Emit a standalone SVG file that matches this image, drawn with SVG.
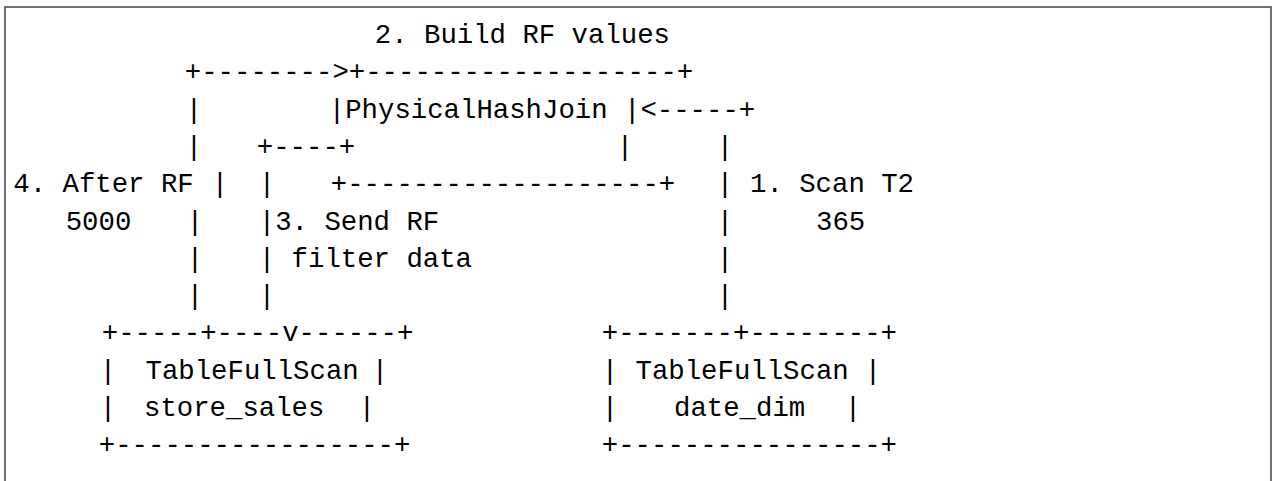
<svg xmlns="http://www.w3.org/2000/svg" width="1273" height="481" viewBox="0 0 1273 481" xml:space="preserve">
<style>
text{font-family:"Liberation Mono","DejaVu Sans Mono",monospace;font-size:27.33px;fill:#000;white-space:pre}
.c{text-anchor:middle}
.frame{fill:none;stroke:#444;stroke-width:1.5}
</style>
<rect width="1273" height="481" fill="#fff"/>
<path class="frame" d="M5,481 V7 H1271 V481"/>
<g id="connectors">
<text x="184.8" y="80.3">+--------&gt;</text>
<text class="c" x="194" y="117.6">|</text>
<text x="640.4" y="117.6">&lt;-----+</text>
<text class="c" x="194" y="154.9">|</text>
<text x="256.8" y="154.9">+----+</text>
<text class="c" x="625" y="154.9">|</text>
<text class="c" x="725" y="154.9">|</text>
<text class="c" x="220" y="192.2">|</text>
<text class="c" x="267" y="192.2">|</text>
<text x="330.8" y="192.2">+-------------------+</text>
<text class="c" x="725" y="192.2">|</text>
<text class="c" x="195" y="229.5">|</text>
<text class="c" x="267" y="229.5">|</text>
<text class="c" x="725" y="229.5">|</text>
<text class="c" x="195" y="266.8">|</text>
<text class="c" x="267" y="266.8">|</text>
<text class="c" x="725" y="266.8">|</text>
<text class="c" x="195" y="304.1">|</text>
<text class="c" x="267" y="304.1">|</text>
<text class="c" x="725" y="304.1">|</text>
</g>
<g id="labels">
<text x="374.8" y="43">2. Build RF values</text>
<text x="13.3" y="192.2">4. After RF</text>
<text x="65.7" y="229.5">5000</text>
<text x="275.2" y="229.5">3. Send RF</text>
<text x="291.6" y="266.8">filter data</text>
<text x="750" y="192.2">1. Scan T2</text>
<text x="816" y="229.5">365</text>
</g>
<g id="node-physical-hash-join">
<text x="348.8" y="80.3">+-------------------+</text>
<text x="328.8" y="117.6">|PhysicalHashJoin |</text>
</g>
<g id="node-store-sales">
<text x="101.8" y="341.4">+-----+----v------+</text>
<text class="c" x="108" y="378.7">|</text>
<text x="145.5" y="378.7">TableFullScan</text>
<text class="c" x="380" y="378.7">|</text>
<text class="c" x="108" y="416">|</text>
<text x="144" y="416">store_sales</text>
<text class="c" x="367" y="416">|</text>
<text x="98.8" y="453.3">+-----------------+</text>
</g>
<g id="node-date-dim">
<text x="601.8" y="341.4">+-------+--------+</text>
<text class="c" x="610" y="378.7">|</text>
<text x="635.5" y="378.7">TableFullScan</text>
<text class="c" x="873" y="378.7">|</text>
<text class="c" x="610" y="416">|</text>
<text x="674" y="416">date_dim</text>
<text class="c" x="853" y="416">|</text>
<text x="601.8" y="453.3">+----------------+</text>
</g>
</svg>
